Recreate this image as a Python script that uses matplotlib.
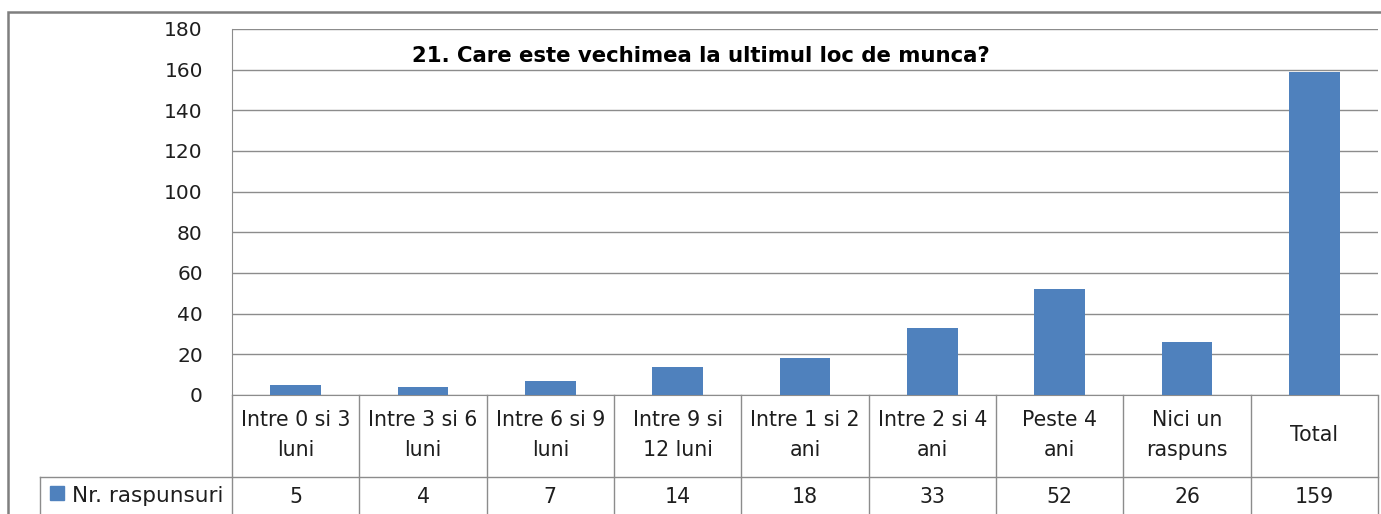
import numpy as np
import matplotlib.pyplot as plt
from matplotlib.patches import Rectangle

# Data
categories = ['Intre 0 si 3\nluni', 'Intre 3 si 6\nluni', 'Intre 6 si 9\nluni',
              'Intre 9 si\n12 luni', 'Intre 1 si 2\nani', 'Intre 2 si 4\nani',
              'Peste 4\nani', 'Nici un\nraspuns', 'Total']
values     = [5, 4, 7, 14, 18, 33, 52, 26, 159]
series     = 'Nr. raspunsuri'
title      = '21. Care este vechimea la ultimul loc de munca?'
yticks     = np.arange(0, 181, 20)

barColor  = '#4F81BD'
gridColor = '#8C8C8C'
textColor = '#1E1E1E'

plt.rcParams['font.family'] = ['DejaVu Sans']

W, H = 1381, 514
fig = plt.figure(figsize=(W/100, H/100), dpi=100)

def px(x0, y0, x1, y1):
    # pixel box (top-left origin) -> figure fraction rect
    return [x0/W, 1 - y1/H, (x1-x0)/W, (y1-y0)/H]

# outer chart frame
fig.patches.append(Rectangle((8/W, -0.1), 1.2, 1 - 12/H + 0.1, transform=fig.transFigure,
                             fill=False, edgecolor='#7F7F7F', linewidth=1.8))

xLeft, xRight = 232, 1378
yTop, yZero   = 29, 395
ax = fig.add_axes(px(xLeft, yTop, xRight, yZero))
x = np.arange(len(values))
ax.bar(x, values, width=0.4, color=barColor, zorder=3)
ax.set_xlim(-0.5, len(values) - 0.5)
ax.set_ylim(0, 180)
ax.set_yticks(yticks)
ax.tick_params(axis='y', length=0, pad=21, labelsize=14.5, labelcolor=textColor)
ax.set_xticks([])
ax.grid(axis='y', color=gridColor, linewidth=1.0, zorder=0)
for s in ['top', 'right']:
    ax.spines[s].set_visible(False)
ax.spines['left'].set_color(gridColor)
ax.spines['bottom'].set_color(gridColor)
ax.text(0.409, 0.925, title, transform=ax.transAxes, ha='center', va='center',
        fontsize=15.3, fontweight='bold', color='black')

# data table below plot
tab = fig.add_axes(px(xLeft, yZero, xRight, yZero + 124), sharex=ax)
tab.set_ylim(124, 0)
tab.axis('off')
catW = (xRight - xLeft) / len(values)
legLeft = -0.5 - (xLeft - 40) / catW
lw = 1.0
for i in range(len(values) + 1):
    tab.plot([i - 0.5, i - 0.5], [0, 124], color=gridColor, lw=lw, clip_on=False)
tab.plot([legLeft, len(values) - 0.5], [82, 82], color=gridColor, lw=lw, clip_on=False)
tab.plot([legLeft, legLeft], [82, 124], color=gridColor, lw=lw, clip_on=False)
for i, (c, v) in enumerate(zip(categories, values)):
    tab.text(i, 40, c, ha='center', va='center', fontsize=14.8, color=textColor,
             linespacing=1.65)
    tab.text(i, 102, str(v), ha='center', va='center', fontsize=14.8, color=textColor)
tab.add_patch(Rectangle((legLeft + 10/catW, 91), 14/catW, 14, color=barColor, clip_on=False))
tab.text(legLeft + 32/catW, 101, series, ha='left', va='center', fontsize=15.5, color=textColor,
         clip_on=False)

plt.savefig('out.png', dpi=100)
plt.close()
